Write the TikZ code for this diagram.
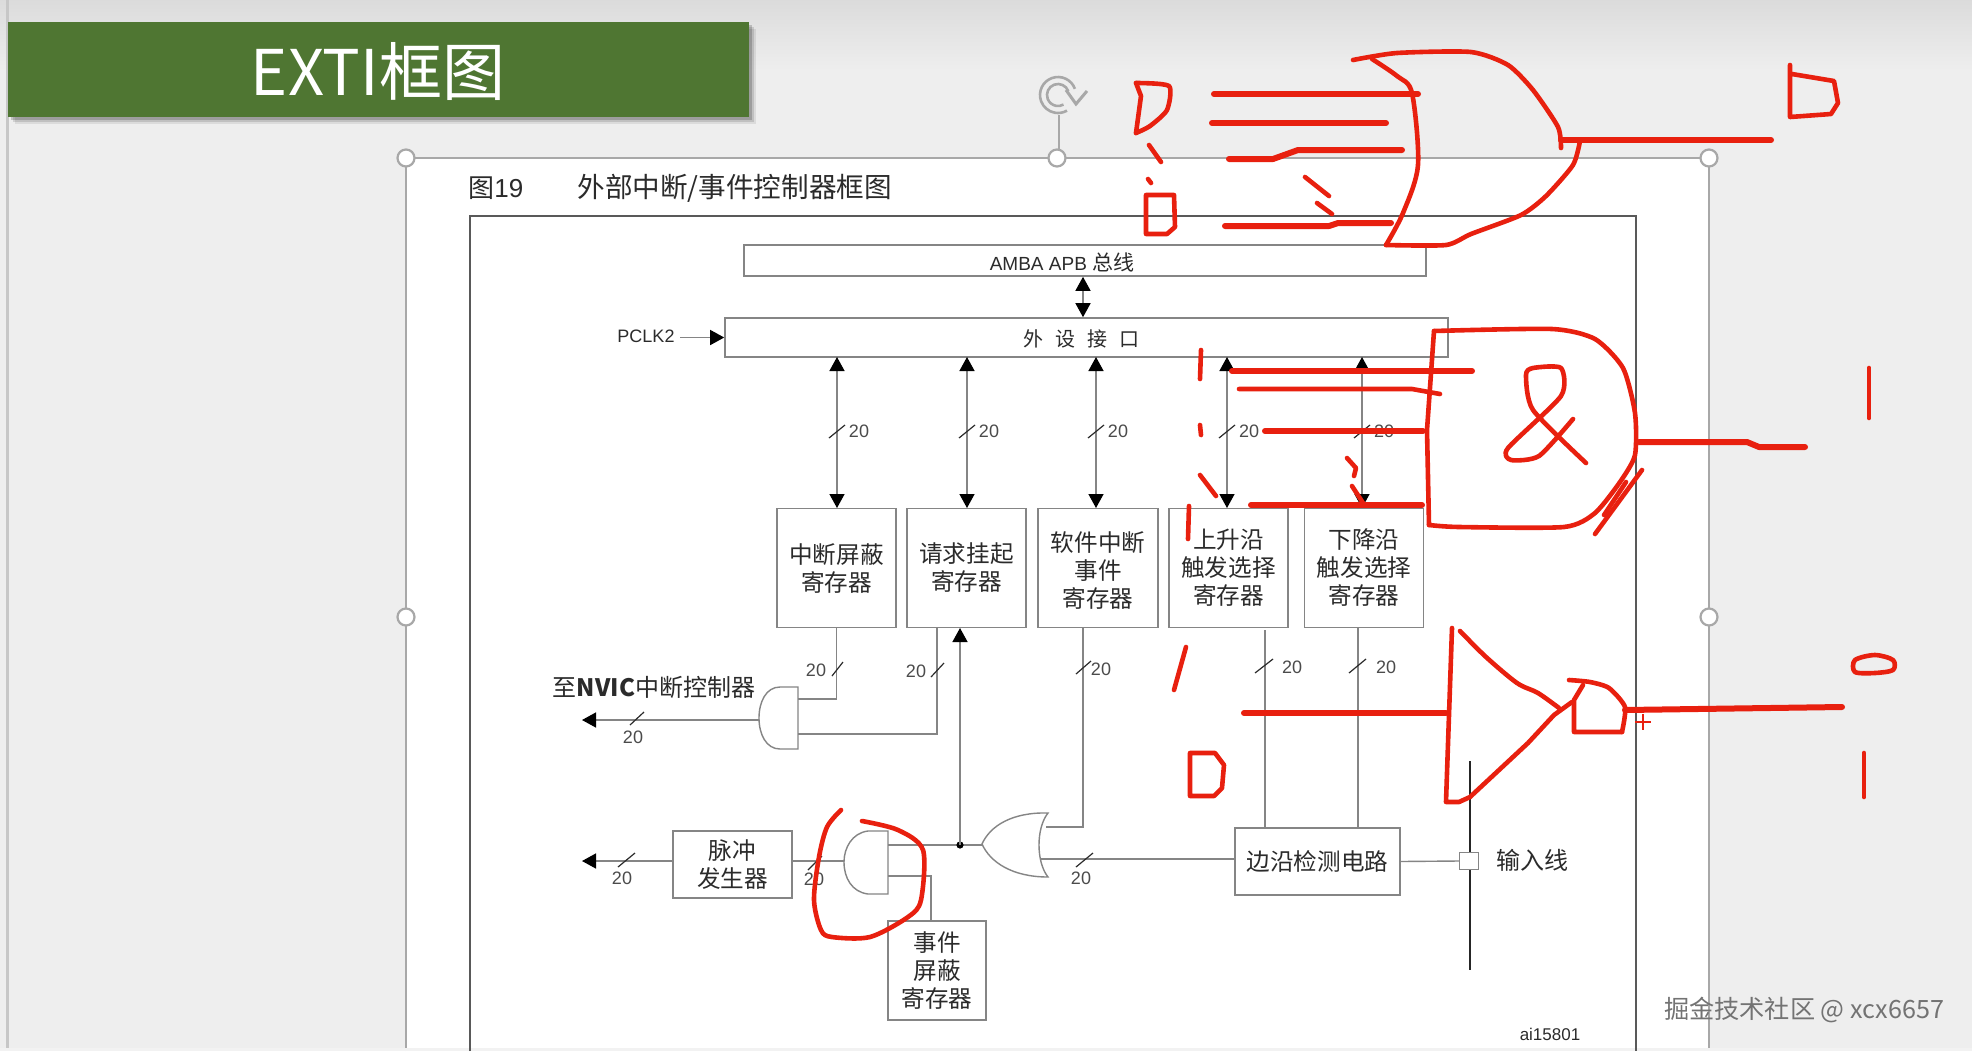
\documentclass[tikz,border=0pt]{standalone}
\usepackage{fontspec}
\setmainfont{Noto Sans CJK SC}
\newfontfamily\lat{Liberation Sans}
\usetikzlibrary{arrows.meta}
\definecolor{lineg}{HTML}{858585}
\definecolor{ink}{HTML}{2B2B2B}
\definecolor{redink}{HTML}{E8200F}
\definecolor{pagebg}{HTML}{EEEEEE}
\definecolor{banner}{HTML}{4F7632}
\definecolor{handle}{HTML}{A8A8A8}
\tikzset{
  x=0.5pt,y=-0.5pt,
  regbox/.style={draw=lineg,line width=.8pt,fill=white,inner sep=0pt,align=center,text=ink,font=\fontsize{11.8}{14}\selectfont},
  wire/.style={draw=lineg,line width=.7pt},
  headS/.style={-{Triangle[length=7pt,width=7.5pt,color=black]}},
  headD/.style={{Triangle[length=7pt,width=7.5pt,color=black]}-{Triangle[length=7pt,width=7.5pt,color=black]}},
  slashm/.style={draw=ink,line width=.6pt},
  num/.style={inner sep=0pt,text=ink!85,font=\lat\fontsize{9}{10}\selectfont},
  lab/.style={inner sep=0pt,text=ink,font=\fontsize{12}{14}\selectfont},
  gate/.style={draw=lineg,line width=.7pt,fill=white},
  hand/.style={circle,draw=handle,line width=1.1pt,fill=white,minimum size=8.5pt,inner sep=0pt},
  pen/.style={draw=redink,line width=2.3pt,line cap=round,line join=round},
  penthick/.style={draw=redink,line width=3pt,line cap=round,line join=round},
}
\begin{document}
\begin{tikzpicture}
\useasboundingbox (0,0) rectangle (1972,1051);
% page
\fill[pagebg] (0,0) rectangle (1972,1051);
\shade[top color=black!14,bottom color=pagebg] (0,0) rectangle (1972,70);
\fill[black!22] (6,0) rectangle (9,1051);
\fill[white] (406,158) rectangle (1709,1051);
\draw[handle,line width=.8pt] (406,1051) -- (406,158) -- (1709,158) -- (1709,1051);
\fill[black!5] (0,1048) rectangle (1972,1051);
% banner
\foreach \o/\p in {7/.08,5/.12,3/.18}{
  \fill[black,opacity=\p] (8+\o,22+\o) rectangle (749+\o,117+\o);
}
\node[fill=banner,minimum width=370.5pt,minimum height=47.5pt,inner sep=0pt] (bar) at (378.5,69.5) {};
\node[inner sep=0pt,text=white,font=\fontsize{31.5}{34}\selectfont] (title) at (378,71) {EXTI框图};
% diagram frame
\draw[draw=black!65,line width=1.1pt] (470,1051) -- (470,216) -- (1636,216) -- (1636,1051);
\node[inner sep=0pt,text=ink,anchor=west,font=\fontsize{13}{15}\selectfont] (cap1) at (468,188) {图{\lat 19}};
\node[inner sep=0pt,text=ink,anchor=west,font=\fontsize{13.8}{15}\selectfont] (cap2) at (577,188) {外部中断/事件控制器框图};
% handles
\draw[handle,line width=.8pt] (1059,115) -- (1059,158);
\draw[handle,line width=1.3pt] (1058,95) ++(20:9pt) arc[start angle=20,end angle=300,radius=9pt];
\draw[handle,line width=1.3pt] (1058,95) ++(20:5.5pt) arc[start angle=20,end angle=300,radius=5.5pt];
\draw[handle,line width=1.5pt,line join=miter] (1066,90) -- (1076,104) -- (1087,91);
\node[hand] (h1) at (406,158) {};
\node[hand] (h2) at (1057,158) {};
\node[hand] (h3) at (1709,158) {};
\node[hand] (h4) at (406,617) {};
\node[hand] (h5) at (1709,617) {};
% top boxes
\node[regbox,minimum width=341pt,minimum height=15.5pt,font=\fontsize{10}{12}\selectfont] (amba) at (1085,260.5) {};
\node[lab,font=\lat\fontsize{9.5}{12}\selectfont] (ambat) at (1062,262) {AMBA APB {\fontspec{Noto Sans CJK SC}\fontsize{10.5}{12}\selectfont 总线}};
\node[regbox,minimum width=361.5pt,minimum height=19.5pt] (peri) at (1086.5,337.5) {};
\node[lab,font=\fontsize{10}{12}\selectfont] (perit) at (1081,339) {外\hspace{6pt}设\hspace{6pt}接\hspace{6pt}口};
\node[inner sep=0pt,text=ink,font=\lat\fontsize{9}{10}\selectfont] (pclk) at (646,336) {PCLK2};
\coordinate (pclkin) at (680,337.5);
\draw[wire,headS] (pclkin) -- (peri.west);
\coordinate (bus) at (1083,318);
\draw[wire,headD] (bus |- amba.south) -- (bus |- peri.north);
% registers
\node[regbox,minimum width=59.5pt,minimum height=59.5pt] (r1) at (836.5,568) {中断屏蔽\\寄存器};
\node[regbox,minimum width=59.5pt,minimum height=59.5pt] (r2) at (966.5,568) {请求挂起\\寄存器};
\node[regbox,minimum width=60pt,minimum height=59.5pt,text depth=0pt] (r3) at (1098,568) {\raisebox{-1.5pt}{软件中断}\\\raisebox{-1.5pt}{事件}\\\raisebox{-1.5pt}{寄存器}};
\node[regbox,minimum width=59.5pt,minimum height=59.5pt] (r4) at (1228.5,568) {\raisebox{-1.5pt}{上升沿}\\\raisebox{-1.5pt}{触发选择}\\\raisebox{-1.5pt}{寄存器}};
\node[regbox,minimum width=59.5pt,minimum height=59.5pt] (r5) at (1364,568) {\raisebox{-1.5pt}{下降沿}\\\raisebox{-1.5pt}{触发选择}\\\raisebox{-1.5pt}{寄存器}};
\foreach \b/\xx in {r1/837,r2/967,r3/1096,r4/1227,r5/1362}{
  \coordinate (\b t) at (\xx,357);
  \coordinate (\b b) at (\xx,508);
  \draw[wire,headD] (\b t) -- (\b b);
  \draw[slashm] (\xx-8,438) -- (\xx+8,425);
  \node[num] (n\b) at (\xx+22,431) {20};
}
% NVIC AND gate
\draw[gate] (798,687) -- (780,687) .. controls (766,687) and (759,702) .. (759,718) .. controls (759,734) and (766,749) .. (780,749) -- (798,749) -- cycle;
\coordinate (g1a) at (798,699);
\coordinate (g1b) at (798,734);
\coordinate (g1o) at (759,720);
\coordinate (r2o) at (937,627);
\coordinate (nvico) at (582,720);
\draw[wire] (r1.south) |- (g1a);
\draw[wire] (r2o) |- (g1b);
\draw[wire,headS] (g1o) -- (nvico);
\draw[slashm] (832,676) -- (843,662);
\draw[slashm] (931,677) -- (944,663);
\draw[slashm] (630,725) -- (644,712);
\node[num] (n6) at (816,670) {20};
\node[num] (n7) at (916,671) {20};
\node[num] (n8) at (633,737) {20};
\node[lab] (nvic) at (654,687) {至\textbf{NVIC}中断控制器};
% lower row
\node[regbox,minimum width=59.5pt,minimum height=33.5pt] (pulse) at (732.5,864.5) {脉冲\\发生器};
\node[regbox,minimum width=49pt,minimum height=49.5pt] (evt) at (937,970.5) {事件\\屏蔽\\寄存器};
\node[regbox,minimum width=82.5pt,minimum height=33.5pt] (edge) at (1317.5,861.5) {边沿检测电路};
% event AND gate
\draw[gate] (888,831) -- (868,831) .. controls (852,833) and (844,848) .. (844,862) .. controls (844,878) and (852,892) .. (868,894) -- (888,894) -- cycle;
% OR gate
\draw[gate] (1048,813) .. controls (1012,812) and (990,826) .. (982,844) .. controls (990,862) and (1012,877) .. (1048,877) .. controls (1036,862) and (1036,828) .. (1048,813) -- cycle;
\coordinate (g2i) at (888,845);
\coordinate (g2e) at (888,876);
\coordinate (g2o) at (844,861);
\coordinate (orl) at (982,845);
\coordinate (ora) at (1046,827);
\coordinate (orb) at (1041,859);
\coordinate (r3o) at (1083,627);
\coordinate (evtt) at (931,921);
\coordinate (pulseo) at (582,861);
\coordinate (r2in) at (960,628);
\draw[wire] (g2o) -- (pulse.east |- g2o);
\draw[wire,headS] (pulse.west |- pulseo) -- (pulseo);
\draw[wire] (orl) -- (g2i);
\draw[wire] (g2e) -| (evtt);
\draw[wire] (r3o) |- (ora);
\draw[wire] (orb) -- (edge.west |- orb);
\coordinate (junc) at (960,845);
\fill[black] (junc) circle[radius=1.8pt];
\draw[wire,headS] (junc) -- (r2in);
\draw[slashm] (618,867) -- (635,853);
\draw[slashm] (808,870) -- (822,856);
\draw[slashm] (1076,867) -- (1093,853);
\draw[slashm] (1076,674) -- (1091,661);
\node[num] (n9) at (622,878) {20};
\node[num] (n10) at (814,879) {20};
\node[num] (n11) at (1081,878) {20};
\node[num] (n12) at (1101,669) {20};
% edge inputs
\coordinate (r4o) at (1265,630);
\coordinate (r5o) at (1358,628);
\draw[wire] (r4o) -- (r4o |- edge.north);
\draw[wire] (r5o) -- (r5o |- edge.north);
\draw[slashm] (1255,673) -- (1273,659);
\draw[slashm] (1349,673) -- (1366,659);
\node[num] (n13) at (1292,667) {20};
\node[num] (n14) at (1386,667) {20};
% input line
\coordinate (ltop) at (1470,761);
\coordinate (lbot) at (1470,970);
\draw[draw=black!85,line width=1.2pt] (ltop) -- (lbot);
\node[draw=lineg,line width=.7pt,fill=white,minimum width=9.5pt,minimum height=8.5pt,inner sep=0pt] (sq) at (1469,861) {};
\draw[wire] (edge.east) -- (sq.west);
\node[lab] (inl) at (1532,860) {输入线};
\node[inner sep=0pt,text=ink,font=\lat\fontsize{8.5}{10}\selectfont] (ai) at (1550,1034) {ai15801};
\node[inner sep=0pt,text=black!55,font=\fontsize{12.6}{15}\selectfont] (wm) at (1804,1010) {掘金技术社区 @ xcx6657};
% red OR gate + text
\draw[pen] plot[smooth,tension=.4] coordinates {(1353,60) (1397,53) (1471,52) (1508,65) (1533,90) (1558,127) (1561,148)};
\draw[pen] plot[smooth,tension=.4] coordinates {(1580,141) (1573,165) (1546,196) (1521,215) (1471,234) (1446,245) (1386,245)};
\draw[pen] plot[smooth,tension=.5] coordinates {(1386,245) (1403,213) (1418,165) (1412,93) (1397,76) (1372,59)};
\draw[penthick] (1561,140) -- (1771,140);
\draw[penthick] (1214,94) -- (1418,94);
\draw[penthick] (1212,123) -- (1386,123);
\draw[penthick] (1229,159) -- (1273,159) -- (1298,150) -- (1402,150);
\draw[penthick] (1225,226) -- (1329,226) -- (1338,223) -- (1391,223);
\draw[pen] (1305,177) -- (1329,196);
\draw[pen] (1317,203) -- (1332,214);
\draw[pen] plot[smooth,tension=.4] coordinates {(1136,83) (1169,86) (1167,110) (1150,126) (1136,133)};
\draw[pen] (1136,133) -- (1141,96) -- (1136,83);
\draw[pen] (1149,145) -- (1161,162);
\draw[pen] (1148,179) -- (1151,183);
\draw[pen] (1146,195) -- (1174,195) -- (1175,227) -- (1167,234) -- (1146,234) -- cycle;
\draw[pen] (1790,65) -- (1790,117) -- (1831,114) -- (1838,103) -- (1834,81) -- (1792,74);
% red AND gate
\draw[pen] plot[smooth,tension=.4] coordinates {(1434,331) (1552,329) (1595,339) (1623,368) (1635,413) (1635,455) (1620,482) (1595,513) (1564,527) (1459,527) (1429,525)};
\draw[pen] (1429,525) -- (1427,430) -- (1434,331);
\draw[penthick] (1639,442) -- (1747,442) -- (1759,447) -- (1805,447);
\draw[pen] (1642,470) -- (1595,534);
\draw[pen] (1626,482) -- (1604,515);
\draw[penthick] (1232,371) -- (1472,371);
\draw[pen] (1239,389) -- (1412,389) -- (1440,394);
\draw[penthick] (1265,431) -- (1423,431);
\draw[penthick] (1251,505) -- (1422,505);
\draw[pen] plot[smooth,tension=.4] coordinates {(1586,463) (1533,410) (1526,375) (1533,368) (1561,368) (1561,396) (1508,448) (1511,460) (1539,456) (1573,419)};
\draw[pen] (1869,368) -- (1869,418);
\draw[pen] (1201,350) -- (1200,379);
\draw[pen] (1200,425) -- (1201,435);
\draw[pen] (1200,475) -- (1216,496);
\draw[pen] (1189,506) -- (1188,539);
\draw[pen] (1347,458) -- (1356,468) -- (1354,476);
\draw[pen] (1352,486) -- (1363,503);
% red circle
\draw[pen] plot[smooth,tension=.5] coordinates {(841,810) (827,827) (819,857) (814,900) (821,930) (832,937) (870,937) (908,917) (921,900) (923,850) (898,830) (862,821)};
% red comparator
\draw[pen] (1186,647) -- (1174,690);
\draw[pen] (1190,753) -- (1215,753) -- (1224,765) -- (1222,788) -- (1214,796) -- (1190,796) -- cycle;
\draw[pen] (1452,628) -- (1446,802) -- (1459,802) -- (1470,797) -- (1528,743) -- (1554,715) -- (1572,702);
\draw[pen] plot[smooth,tension=.5] coordinates {(1460,631) (1486,657) (1517,683) (1538,693) (1559,708)};
\draw[penthick] (1244,713) -- (1446,713);
\draw[pen] plot[smooth,tension=.4] coordinates {(1569,680) (1590,682) (1609,688) (1625,707) (1622,732)};
\draw[pen] (1622,732) -- (1574,732) -- (1574,700) -- (1583,685);
\draw[penthick] (1625,710) -- (1842,707);
\draw[draw=redink,line width=.9pt] (1635,722) -- (1651,722) (1643,714) -- (1643,730);
\draw[pen] plot[smooth cycle,tension=.5] coordinates {(1855,660) (1875,655) (1893,660) (1893,670) (1875,673) (1855,672)};
\draw[pen] (1864,753) -- (1864,797);
\end{tikzpicture}
\end{document}
